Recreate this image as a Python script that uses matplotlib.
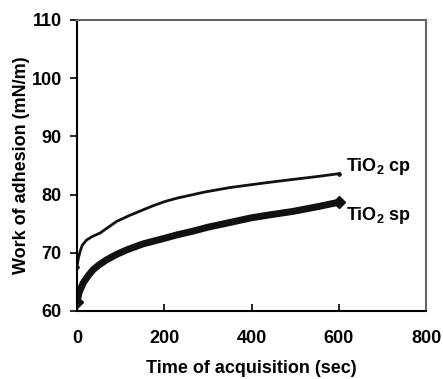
import matplotlib
matplotlib.use("Agg")
import matplotlib.pyplot as plt

# Data
t_cp = [0, 3, 7, 12, 22, 35, 53, 70, 91, 120, 152, 175, 201, 230, 266, 290, 312, 350, 399, 440, 494, 550, 601]
v_cp = [67.6, 69.0, 70.2, 71.3, 72.2, 72.8, 73.4, 74.3, 75.4, 76.4, 77.4, 78.1, 78.8, 79.4, 80.0, 80.4, 80.7, 81.2, 81.7, 82.1, 82.6, 83.1, 83.6]

t_sp = [0, 5, 14, 25, 37, 50, 68, 90, 114, 150, 201, 230, 265, 300, 350, 399, 440, 494, 550, 601]
v_sp = [61.6, 63.2, 64.8, 66.0, 67.1, 67.9, 68.8, 69.7, 70.5, 71.5, 72.5, 73.1, 73.7, 74.4, 75.2, 76.0, 76.5, 77.1, 77.9, 78.7]

x_ticks = [0, 200, 400, 600, 800]
y_ticks = [60, 70, 80, 90, 100, 110]
labels = ["TiO$_2$ cp", "TiO$_2$ sp"]

plt.rcParams['font.family'] = ['Liberation Sans', 'DejaVu Sans']
plt.rcParams['font.weight'] = 'bold'
plt.rcParams['mathtext.fontset'] = 'custom'
plt.rcParams['mathtext.rm'] = 'Liberation Sans:bold'
plt.rcParams['mathtext.it'] = 'Liberation Sans:bold'
plt.rcParams['mathtext.bf'] = 'Liberation Sans:bold'

fig = plt.figure(figsize=(4.43, 3.79), dpi=100)
ax = fig.add_axes([77/443, 1-311/379, (426-77)/443, (311-20)/379])

ax.plot(t_cp, v_cp, color='#111111', lw=2.0, marker='D', ms=2, markevery=[0, len(t_cp)-1])
ax.plot(t_sp, v_sp, color='#111111', lw=5, solid_capstyle='round', marker='D', ms=6,
        markevery=[0, len(t_sp)-1])

ax.set_xlim(0, 800)
ax.set_ylim(60, 110)
ax.set_xticks(x_ticks)
ax.set_xticklabels([str(v) for v in x_ticks], fontweight='bold', fontsize=13)
ax.set_yticks(y_ticks)
ax.set_yticklabels([str(v) for v in y_ticks], fontweight='bold', fontsize=13)

for side in ['top', 'right']:
    ax.spines[side].set_color('#666666')
    ax.spines[side].set_linewidth(1.5)
for side in ['left', 'bottom']:
    ax.spines[side].set_color('black')
    ax.spines[side].set_linewidth(1.5)

ax.tick_params(axis='x', direction='in', length=5, width=1.2, pad=14)
ax.tick_params(axis='y', direction='out', length=5, width=1.2, pad=6)

ax.set_xlabel('Time of acquisition (sec)', fontsize=13, fontweight='bold', labelpad=9)
ax.set_ylabel('Work of adhesion (mN/m)', fontsize=13, fontweight='bold', labelpad=1)

ax.text(617, 84.9, labels[0], fontsize=13, fontweight='bold', va='center', ha='left')
ax.text(617, 76.4, labels[1], fontsize=13, fontweight='bold', va='center', ha='left')

fig.savefig('out.png', dpi=100)
